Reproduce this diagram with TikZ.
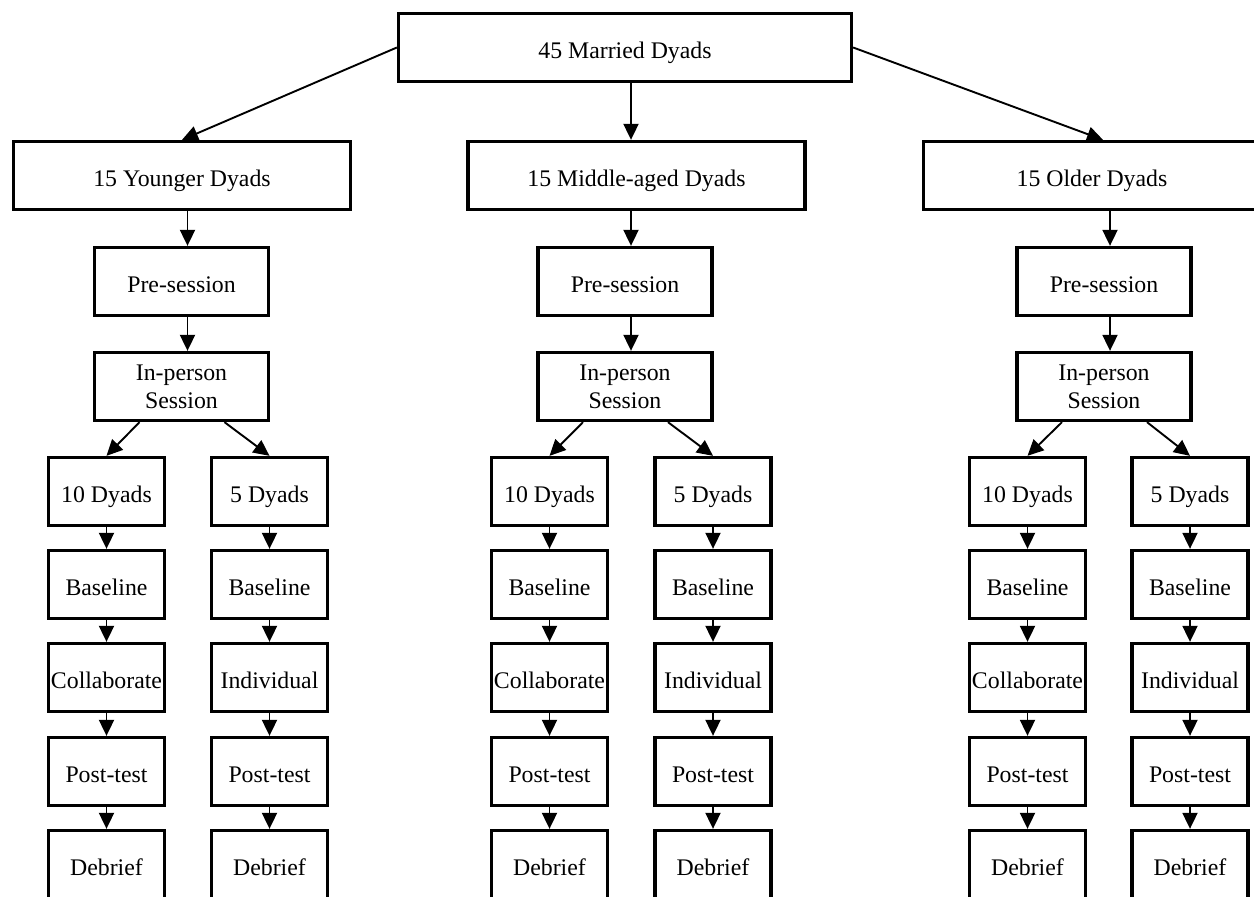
\documentclass[tikz,border=0pt]{standalone}
\usepackage{fontspec}
\setmainfont{Liberation Serif}
\usetikzlibrary{arrows.meta}
\tikzset{
	box/.style={draw, line width=1.65pt, inner sep=0pt, minimum height=34pt, align=center, text height=13pt, text depth=2.2pt, font=\fontsize{11.9}{14}\selectfont},
	topbox/.style={box, minimum width=226.5pt},
	grpbox/.style={box, minimum width=168.5pt},
	midbox/.style={box, minimum width=87pt},
	smallbox/.style={box, minimum width=58pt},
	arr/.style={-{Triangle[length=8pt,width=7.5pt]}, line width=0.95pt}
}
\begin{document}
\begin{tikzpicture}[x=0.5pt, y=-0.5pt]
	\clip (0,0) rectangle (1254,897);
	
	% --- HỘP TRÊN CÙNG ---
	\node[topbox] (top) at (625,47.5) {45 Married Dyads};
	
	% --- BA NHÓM TUỔI ---
	\foreach \i/\gx/\cx/\lx/\rx/\lab in {1/182/181.5/106.5/269.5/Younger, 2/636.5/625/549.5/713/Middle-aged, 3/1092/1104/1027.5/1190/Older}{
		\node[grpbox] (grp\i) at (\gx,175.5) {15 \lab\ Dyads};
		\node[midbox] (pre\i) at (\cx,281.5) {Pre-session};
		\node[midbox, text height=, text depth=] (ip\i) at (\cx,386.5) {In-person\\Session};
		
		% hai cột con
		\foreach \j/\y/\ta/\tb in {1/491.5/10 Dyads/5 Dyads, 2/584.5/Baseline/Baseline, 3/677.5/Collaborate/Individual, 4/771.5/Post-test/Post-test, 5/864.5/Debrief/Debrief}{
			\node[smallbox] (L\i-\j) at (\lx,\y) {\ta};
			\node[smallbox] (R\i-\j) at (\rx,\y) {\tb};
		}
		
		% mũi tên trong nhóm
		\coordinate (ax\i) at ([xshift=3pt]pre\i.north);
		\draw[arr] (grp\i.south -| ax\i) -- (ax\i);
		\draw[arr] ([xshift=3pt]pre\i.south) -- ([xshift=3pt]ip\i.north);
		\draw[arr] ([xshift=-21pt]ip\i.south) -- (L\i-1.north);
		\draw[arr] ([xshift=21.5pt]ip\i.south) -- (R\i-1.north);
		\foreach \j [count=\k from 2] in {1,...,4}{
			\draw[arr] (L\i-\j) -- (L\i-\k);
			\draw[arr] (R\i-\j) -- (R\i-\k);
		}
	}
	
	% --- MŨI TÊN TỪ HỘP TRÊN ---
	\coordinate (tx) at ([xshift=3pt]top.south);
	\draw[arr] (top.west) -- (grp1.north);
	\draw[arr] (tx) -- (tx |- grp2.north);
	\draw[arr] (top.east) -- ([xshift=5.5pt]grp3.north);
\end{tikzpicture}
\end{document}
